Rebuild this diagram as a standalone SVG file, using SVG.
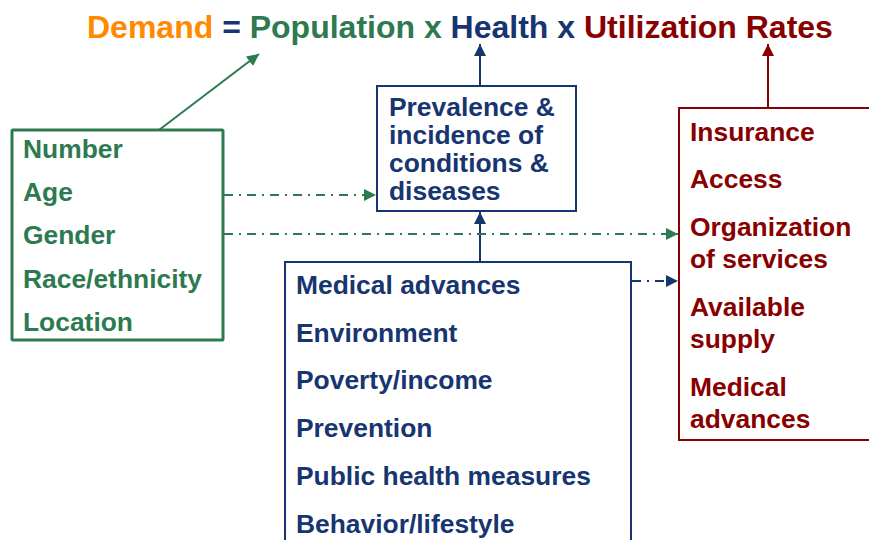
<svg xmlns="http://www.w3.org/2000/svg" width="869" height="540" viewBox="0 0 869 540">
<defs>
<style>
text{font-family:"Liberation Sans",Arial,sans-serif;font-weight:bold;font-size:26.4px}
.g{fill:#2e7a50}.n{fill:#173570}.r{fill:#880000}.o{fill:#ff8a00}
.dd{stroke-dasharray:9 6 2 6;fill:none;stroke-width:2}
</style>
<marker id="ag" viewBox="0 0 12 12" refX="12" refY="6" markerWidth="12" markerHeight="12" markerUnits="userSpaceOnUse" orient="auto"><path d="M0,0 L12,6 L0,12 Z" fill="#2e7a50"/></marker>
<marker id="an" viewBox="0 0 12 12" refX="12" refY="6" markerWidth="12" markerHeight="12" markerUnits="userSpaceOnUse" orient="auto"><path d="M0,0 L12,6 L0,12 Z" fill="#173570"/></marker>
<marker id="ar" viewBox="0 0 12 12" refX="12" refY="6" markerWidth="12" markerHeight="12" markerUnits="userSpaceOnUse" orient="auto"><path d="M0,0 L12,6 L0,12 Z" fill="#880000"/></marker>
</defs>
<rect width="869" height="540" fill="#fff"/>
<g id="title">
<text x="87" y="38" style="font-size:32px"><tspan class="o">Demand</tspan><tspan class="n"> = </tspan><tspan class="g">Population x </tspan><tspan class="n">Health x </tspan><tspan class="r">Utilization Rates</tspan></text>
</g>
<g id="population">
<rect x="12" y="130" width="211" height="210" fill="none" stroke="#2e7a50" stroke-width="3" rx="1"/>
<text class="g" x="23" y="158">Number</text>
<text class="g" x="23" y="201">Age</text>
<text class="g" x="23" y="244">Gender</text>
<text class="g" x="23" y="288">Race/ethnicity</text>
<text class="g" x="23" y="331">Location</text>
</g>
<g id="prevalence">
<rect x="377" y="86" width="199" height="125" fill="none" stroke="#173570" stroke-width="2"/>
<text class="n" x="389" y="116">Prevalence &amp;</text>
<text class="n" x="389" y="144">incidence of</text>
<text class="n" x="389" y="172">conditions &amp;</text>
<text class="n" x="389" y="200">diseases</text>
</g>
<g id="factors">
<rect x="285" y="262" width="346" height="290" fill="none" stroke="#173570" stroke-width="2"/>
<text class="n" x="296" y="294">Medical advances</text>
<text class="n" x="296" y="342">Environment</text>
<text class="n" x="296" y="389">Poverty/income</text>
<text class="n" x="296" y="437">Prevention</text>
<text class="n" x="296" y="485">Public health measures</text>
<text class="n" x="296" y="533">Behavior/lifestyle</text>
</g>
<g id="utilization">
<rect x="679" y="108" width="200" height="332" fill="none" stroke="#880000" stroke-width="2"/>
<text class="r" x="690" y="141">Insurance</text>
<text class="r" x="690" y="188">Access</text>
<text class="r" x="690" y="236">Organization</text>
<text class="r" x="690" y="268">of services</text>
<text class="r" x="690" y="316">Available</text>
<text class="r" x="690" y="348">supply</text>
<text class="r" x="690" y="396">Medical</text>
<text class="r" x="690" y="428">advances</text>
</g>
<g id="connectors">
<line x1="159" y1="130" x2="259" y2="54" stroke="#2e7a50" stroke-width="2" marker-end="url(#ag)"/>
<line x1="480" y1="86" x2="480" y2="44" stroke="#173570" stroke-width="2" marker-end="url(#an)"/>
<line x1="768" y1="108" x2="768" y2="44" stroke="#880000" stroke-width="2" marker-end="url(#ar)"/>
<line x1="480" y1="262" x2="480" y2="212" stroke="#173570" stroke-width="2" marker-end="url(#an)"/>
<line class="dd" x1="224" y1="195" x2="376" y2="195" stroke="#2e7a50" marker-end="url(#ag)"/>
<line class="dd" x1="224" y1="234" x2="678" y2="234" stroke="#2e7a50" marker-end="url(#ag)"/>
<line class="dd" x1="632" y1="281" x2="678" y2="281" stroke="#173570" marker-end="url(#an)"/>
</g>
</svg>
